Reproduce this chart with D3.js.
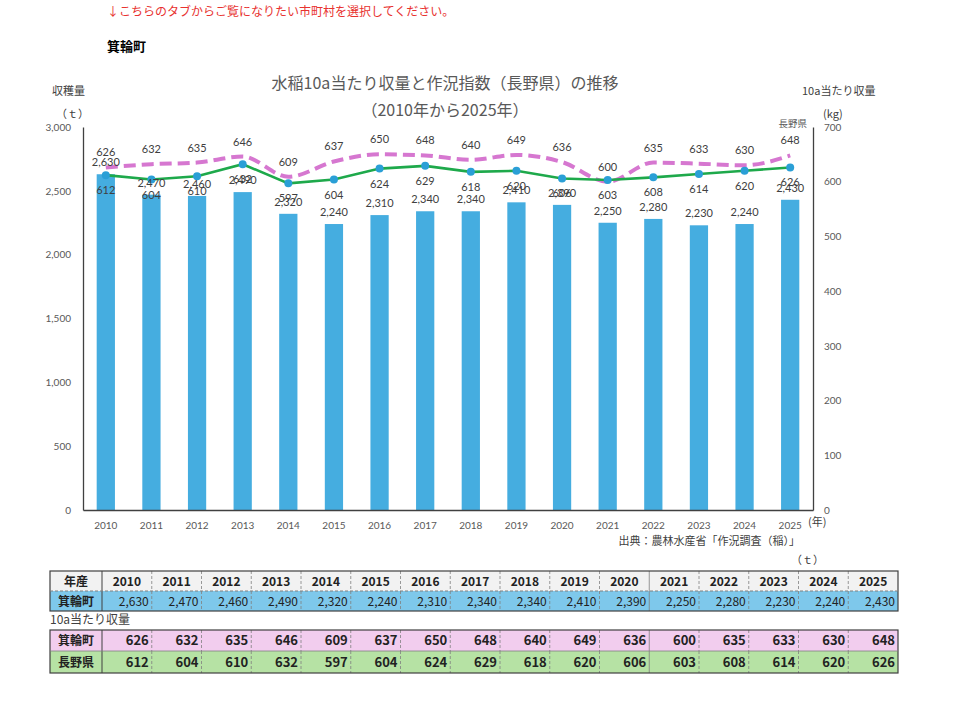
<!DOCTYPE html>
<html>
<head>
<meta charset="utf-8">
<style>
  body { margin: 0; background: #fff; }
  svg text { font-family: "Noto Sans CJK JP", "Noto Sans", sans-serif; }
  .tick text { fill: #595959; font-size: 10px; font-family: Lato, "Noto Sans", sans-serif; }
  .lbl { fill: #404040; font-size: 11px; text-anchor: middle; font-family: Lato, "Noto Sans", sans-serif; }
</style>
<script src="https://d3js.org/d3.v7.min.js"></script>
</head>
<body>
<script>

    var years = ["2010","2011","2012","2013","2014","2015","2016","2017","2018","2019","2020","2021","2022","2023","2024","2025"];
    var harvest = [2630,2470,2460,2490,2320,2240,2310,2340,2340,2410,2390,2250,2280,2230,2240,2430];
    var yieldTown = [626,632,635,646,609,637,650,648,640,649,636,600,635,633,630,648];
    var yieldPref = [612,604,610,632,597,604,624,629,618,620,606,603,608,614,620,626];
    var leftTicks = [0,500,1000,1500,2000,2500,3000];
    var rightTicks = [0,100,200,300,400,500,600,700];

    var width = 960, height = 701;
    var pL = 83, pR = 813, pT = 127, pB = 510;

    var svg = d3.select("body").append("svg")
        .attr("width", width)
        .attr("height", height);

    var x = d3.scaleBand().domain(years).range([pL, pR]).paddingInner(0.6).paddingOuter(0.3);
    var yL = d3.scaleLinear().domain([0, 3000]).range([pB, pT]);
    var yR = d3.scaleLinear().domain([0, 700]).range([pB, pT]);
    var cx = function(i) { return x(years[i]) + x.bandwidth() / 2; };

    // header texts
    svg.append("text").attr("x", 107).attr("y", 16)
      .style("font-size", "12px").style("fill", "#e8322f")
      .text("↓こちらのタブからご覧になりたい市町村を選択してください。");
    svg.append("text").attr("x", 107).attr("y", 51)
      .style("font-size", "13px").style("font-weight", "bold").style("fill", "#000")
      .text("箕輪町");

    svg.append("text").attr("x", 445).attr("y", 89).attr("text-anchor", "middle")
      .style("font-size", "16px").style("fill", "#595959")
      .text("水稲10a当たり収量と作況指数（長野県）の推移");
    svg.append("text").attr("x", 445).attr("y", 116).attr("text-anchor", "middle")
      .style("font-size", "16px").style("fill", "#595959")
      .text("（2010年から2025年）");

    var small = function(tx, xx, yy, anchor) {
      return svg.append("text").attr("x", xx).attr("y", yy).attr("text-anchor", anchor || "start")
        .style("font-size", "11px").style("fill", "#404040").text(tx);
    };
    small("収穫量", 52, 95);
    small("（ｔ）", 56, 118);
    small("10a当たり収量", 802, 95);
    small("(kg)", 823, 118);
    svg.append("text").attr("x", 807).attr("y", 127).attr("text-anchor", "end")
      .style("font-size", "9.5px").style("fill", "#595959").text("長野県");

    // bars
    svg.selectAll("rect.bar")
      .data(harvest)
      .enter().append("rect")
      .attr("class", "bar")
      .attr("x", function(d, i) { return x(years[i]); })
      .attr("width", x.bandwidth())
      .attr("y", function(d) { return yL(d); })
      .attr("height", function(d) { return pB - yL(d); })
      .style("fill", "#45ade0");

    // axes
    var axL = svg.append("g").attr("transform", "translate(" + pL + ",0)")
      .call(d3.axisLeft(yL).tickValues(leftTicks).tickSize(0).tickPadding(12).tickFormat(d3.format(",")));
    var axR = svg.append("g").attr("transform", "translate(" + pR + ",0)")
      .call(d3.axisRight(yR).tickValues(rightTicks).tickSize(0).tickPadding(11));
    var axB = svg.append("g").attr("transform", "translate(0," + pB + ")")
      .call(d3.axisBottom(x).tickSize(0).tickPadding(12));
    [axL, axR, axB].forEach(function(a) {
      a.select(".domain").style("stroke", "#404040").style("stroke-width", 1.3);
    });
    small("(年)", 808, 526);
    small("出典：農林水産省「作況調査（稲）」", 800, 545, "end");
    small("（ｔ）", 824, 564, "end");

    // lines
    var linePink = d3.line().x(function(d, i) { return cx(i); }).y(function(d) { return yR(d); })
      .curve(d3.curveMonotoneX);
    var lineGreen = d3.line().x(function(d, i) { return cx(i); }).y(function(d) { return yR(d); });

    svg.append("path").attr("d", linePink(yieldTown))
      .style("fill", "none").style("stroke", "#d677d0").style("stroke-width", 4)
      .style("stroke-dasharray", "12,6");
    svg.append("path").attr("d", lineGreen(yieldPref))
      .style("fill", "none").style("stroke", "#1ea94b").style("stroke-width", 2.6);
    svg.selectAll("circle.pt")
      .data(yieldPref)
      .enter().append("circle")
      .attr("class", "pt")
      .attr("cx", function(d, i) { return cx(i); })
      .attr("cy", function(d) { return yR(d); })
      .attr("r", 4)
      .style("fill", "#2a9fd6");

    // data labels
    svg.selectAll("text.lp").data(yieldTown).enter().append("text")
      .attr("class", "lbl lp")
      .attr("x", function(d, i) { return cx(i); })
      .attr("y", function(d) { return yR(d) - 11; })
      .text(function(d) { return d; });
    svg.selectAll("text.lg").data(yieldPref).enter().append("text")
      .attr("class", "lbl lg")
      .attr("x", function(d, i) { return cx(i); })
      .attr("y", function(d) { return yR(d) + 19; })
      .text(function(d) { return d; });
    svg.selectAll("text.lb").data(harvest).enter().append("text")
      .attr("class", "lbl lb")
      .attr("x", function(d, i) { return cx(i); })
      .attr("y", function(d) { return yL(d) - 8; })
      .text(d3.format(","));

    // table
    var tx0 = 50, labW = 52, colW = 49.75;
    var colX = function(i) { return tx0 + labW + i * colW; };
    var tRight = colX(years.length);

    var rows = [
      { y: 571, h: 20, bg: "#f2f2f2", label: "年産", vals: years, bold: true, fmt: String },
      { y: 591, h: 20, bg: "#7ec8eb", label: "箕輪町", vals: harvest, bold: false, fmt: d3.format(",") },
      { y: 630, h: 21, bg: "#f2cdee", label: "箕輪町", vals: yieldTown, bold: true, fmt: String },
      { y: 651, h: 22, bg: "#b6e2a4", label: "長野県", vals: yieldPref, bold: true, fmt: String }
    ];

    rows.forEach(function(r, ri) {
      var g = svg.append("g");
      g.append("rect").attr("x", tx0).attr("y", r.y).attr("width", tRight - tx0).attr("height", r.h)
        .style("fill", r.bg);
      g.append("text").attr("x", tx0 + labW / 2).attr("y", r.y + r.h / 2 + 4.5)
        .attr("text-anchor", "middle").style("font-size", "12px").style("font-weight", "bold")
        .style("fill", "#222").text(r.label);
      g.selectAll("text.v").data(r.vals).enter().append("text")
        .attr("x", function(d, i) { return ri === 0 ? colX(i) + colW / 2 : colX(i + 1) - 3; })
        .attr("y", r.y + r.h / 2 + 4.5)
        .attr("text-anchor", ri === 0 ? "middle" : "end")
        .style("font-size", ri >= 2 ? "13px" : "12px")
        .style("font-weight", r.bold ? "bold" : "normal")
        .style("fill", "#222")
        .text(r.fmt);
      g.selectAll("line.c").data(d3.range(1, r.vals.length)).enter().append("line")
        .attr("x1", function(i) { return colX(i); }).attr("x2", function(i) { return colX(i); })
        .attr("y1", r.y).attr("y2", r.y + r.h)
        .style("stroke", "#808080").style("stroke-width", 0.8)
        .style("stroke-dasharray", function(i) { return i === 11 ? null : "3,2"; });
      g.append("line").attr("x1", colX(0)).attr("x2", colX(0)).attr("y1", r.y).attr("y2", r.y + r.h)
        .style("stroke", "#404040").style("stroke-width", 1);
    });

    // table borders
    svg.append("rect").attr("x", tx0).attr("y", 571).attr("width", tRight - tx0).attr("height", 40)
      .style("fill", "none").style("stroke", "#404040").style("stroke-width", 1.2);
    svg.append("line").attr("x1", tx0).attr("x2", tRight).attr("y1", 591).attr("y2", 591)
      .style("stroke", "#808080").style("stroke-dasharray", "3,2");
    svg.append("rect").attr("x", tx0).attr("y", 630).attr("width", tRight - tx0).attr("height", 43)
      .style("fill", "none").style("stroke", "#404040").style("stroke-width", 1.2);
    svg.append("line").attr("x1", tx0).attr("x2", tRight).attr("y1", 651).attr("y2", 651)
      .style("stroke", "#808080").style("stroke-width", 0.8);

    svg.append("text").attr("x", 50).attr("y", 624)
      .style("font-size", "12px").style("fill", "#404040").text("10a当たり収量");

</script>
</body>
</html>
